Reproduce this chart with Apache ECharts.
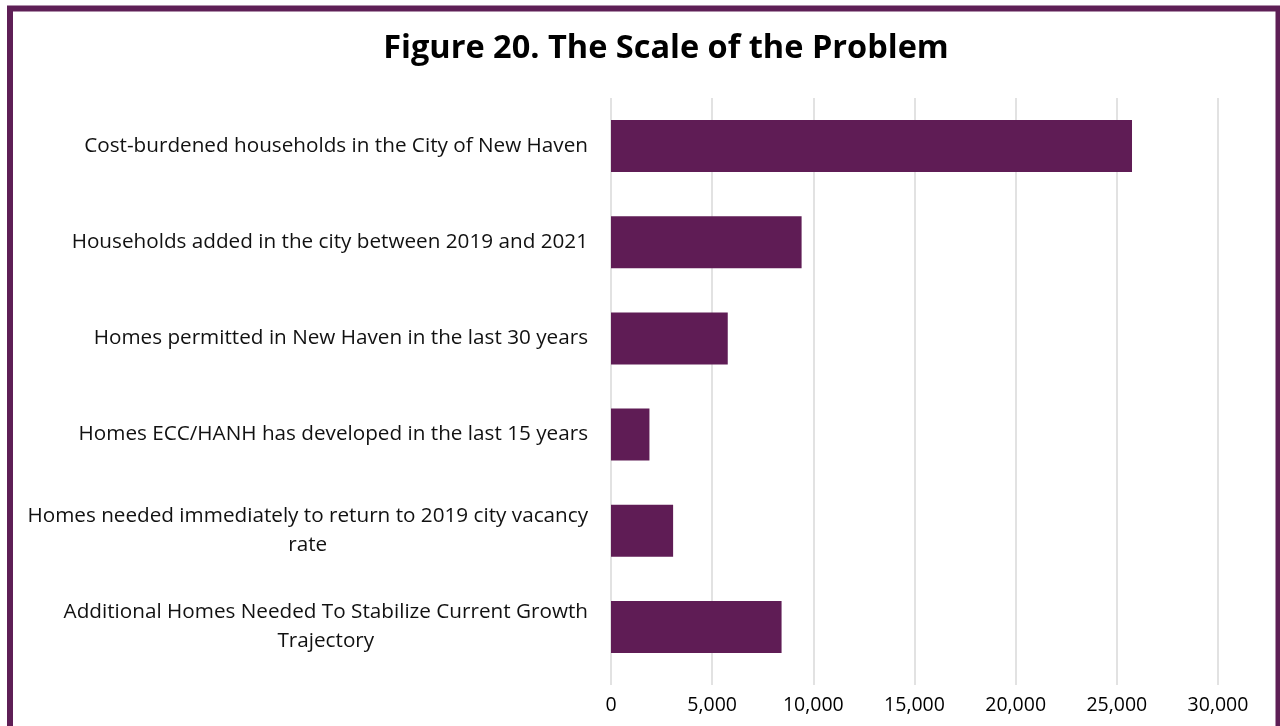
<!DOCTYPE html>
<html>
<head>
<meta charset="utf-8">
<script src="https://cdn.jsdelivr.net/npm/echarts@6/dist/echarts.min.js"></script>
<style>
    html, body { margin: 0; padding: 0; background: #fff; }
    #chart { width: 1280px; height: 726px; }
</style>
</head>
<body>
<div id="chart"></div>
<script>
// categories, top to bottom
var categories = [
    'Cost-burdened households in the City of New Haven',
    'Households added in the city between 2019 and 2021',
    'Homes permitted in New Haven in the last 30 years',
    'Homes ECC/HANH has developed in the last 15 years',
    'Homes needed immediately to return to 2019 city vacancy\nrate',
    'Additional Homes Needed To Stabilize Current Growth\nTrajectory'
];
var values = [25750, 9420, 5770, 1900, 3070, 8430];
var tickValues = [0, 5000, 10000, 15000, 20000, 25000, 30000];

var purple = '#5f1c55';

function fmt(v) {
    return v.toString().replace(/\B(?=(\d{3})+(?!\d))/g, ',');
}

var chart = echarts.init(document.getElementById('chart'));
var option = {
    backgroundColor: '#fff',
    animation: false,
    title: {
        text: 'Figure 20. The Scale of the Problem',
        left: 661,
        textAlign: 'center',
        top: 27,
        textStyle: {
            fontFamily: 'Open Sans',
            fontWeight: 'bold',
            fontSize: 32.5,
            color: '#000'
        }
    },
    graphic: [{
        type: 'rect',
        silent: true,
        shape: { x: 10, y: 8.5, width: 1268.5, height: 760 },
        style: { fill: null, stroke: '#5e1f56', lineWidth: 6 }
    }],
    grid: {
        left: 611,
        right: 62,
        top: 98,
        bottom: 51,
        containLabel: false
    },
    xAxis: {
        type: 'value',
        min: tickValues[0],
        max: tickValues[tickValues.length - 1],
        interval: 5000,
        axisLine: { show: false },
        axisTick: {
            show: true,
            length: 10,
            lineStyle: { color: '#d9d9d9', width: 1.5 }
        },
        splitLine: { lineStyle: { color: '#d9d9d9', width: 1.5 } },
        axisLabel: {
            margin: 20,
            fontFamily: 'Open Sans',
            fontSize: 19.5,
            color: '#000',
            formatter: function (v) { return fmt(v); }
        }
    },
    yAxis: {
        type: 'category',
        inverse: true,
        data: categories,
        axisLine: { show: false },
        axisTick: { show: false },
        axisLabel: {
            margin: 23,
            formatter: function (v) {
                return v.split('\n').map(function (s) { return '{c|' + s + '}'; }).join('\n');
            },
            rich: {
                c: {
                    align: 'center',
                    fontFamily: 'Open Sans',
                    fontSize: 20.7,
                    lineHeight: 29,
                    color: '#111'
                }
            }
        }
    },
    series: [{
        type: 'bar',
        data: values,
        barCategoryGap: '46%',
        itemStyle: { color: purple },
        silent: true
    }]
};
chart.setOption(option);
</script>
</body>
</html>
